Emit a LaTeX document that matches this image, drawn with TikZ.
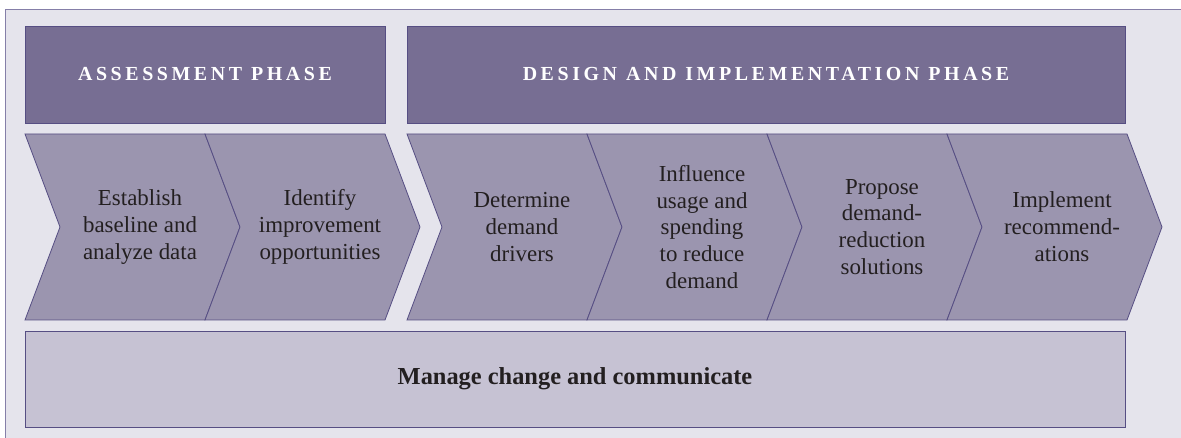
\documentclass[tikz,border=0pt]{standalone}
\usepackage{fontspec}
\setmainfont{Liberation Serif}
\begin{document}
\definecolor{panelbg}{HTML}{E5E4EC}
\definecolor{panelrule}{HTML}{857FA8}
\definecolor{headfill}{HTML}{776E93}
\definecolor{chevfill}{HTML}{9B95AF}
\definecolor{basefill}{HTML}{C6C2D3}
\definecolor{edge}{HTML}{564E83}
\definecolor{ink}{HTML}{231F20}
\tikzset{
  headbox/.style={draw=edge, line width=0.8bp, fill=headfill, text=white,
    font=\fontsize{20}{24}\selectfont\bfseries\addfontfeatures{LetterSpace=18},
    inner sep=0pt},
  chevbox/.style={draw=edge, line width=0.8bp, fill=chevfill, line join=miter},
  chevtext/.style={text=ink, align=center, inner sep=0pt,
    font=\fontsize{23}{27}\selectfont},
  basebox/.style={draw=edge, line width=0.8bp, fill=basefill, text=ink,
    font=\fontsize{24.5}{29}\selectfont\bfseries, inner sep=0pt},
}
% wider gap between words of the tracked header captions
\newcommand\hgap{\hspace{0.45em}}
% one step of the process: chevron outline starting at x = #1, with its label
\newcommand\mkchevron[3]{%
  \draw[chevbox] (#1,134) -- ++(180,0) -- ++(35,93) -- ++(-35,93)
    -- ++(-180,0) -- ++(35,-93) -- cycle;
  \node[chevtext] (#2) at (#1+115,227) {#3};
}
\begin{tikzpicture}[x=1bp, y=-1bp]
  \useasboundingbox (0,0) rectangle (1181,438);
  % panel background with its top and left rules
  \fill[panelbg] (5,9) rectangle (1181,438);
  \draw[panelrule, line width=1.5bp] (5.5,438) -- (5.5,9.5) -- (1181,9.5);

  % phase headers
  \node[headbox, minimum width=360bp, minimum height=97bp] (assess)
    at (205,74.5) {ASSESSMENT\hgap PHASE};
  \node[headbox, minimum width=718bp, minimum height=97bp] (design)
    at (766,74.5) {DESIGN\hgap AND\hgap IMPLEMENTATION\hgap PHASE};

  % process steps
  \mkchevron{25}{s1}{Establish\\baseline and\\analyze data}
  \mkchevron{205}{s2}{Identify\\improvement\\opportunities}
  \mkchevron{407}{s3}{Determine\\demand\\drivers}
  \mkchevron{587}{s4}{Influence\\usage and\\spending\\to reduce\\demand}
  \mkchevron{767}{s5}{Propose\\demand-\\reduction\\solutions}
  \mkchevron{947}{s6}{Implement\\recommend-\\ations}

  % continuous activity underneath
  \node[basebox, minimum width=1100bp, minimum height=96bp] (manage)
    at (575,379) {Manage change and communicate};
\end{tikzpicture}
\end{document}
